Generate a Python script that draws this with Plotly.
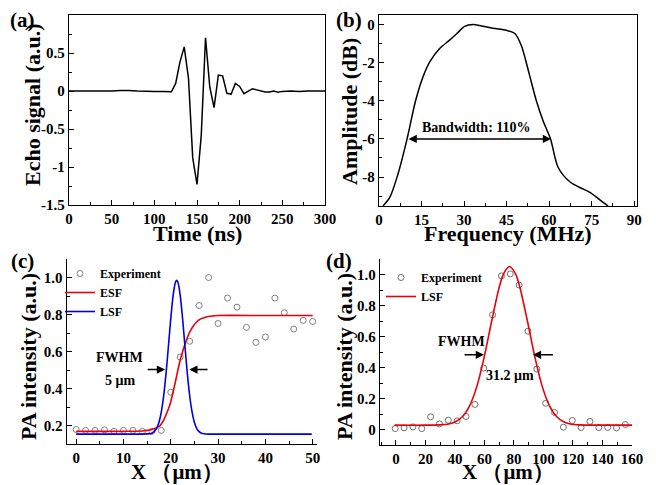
import plotly.graph_objects as go

# ---------------- data ----------------
# (a) echo signal
time_ns = [0, 10, 20, 30, 40, 50, 60, 65, 70, 80, 90, 100, 110, 115, 120, 125, 130, 135,
           140, 145, 150, 155, 160, 165, 170, 175, 180, 185, 190, 195, 200, 205, 210, 215,
           220, 225, 230, 235, 240, 245, 250, 260, 270, 280, 290, 300]
echo_signal = [0.0, 0.0, -0.003, -0.005, -0.005, 0.0, 0.008, 0.01, 0.008, 0.0, -0.005, -0.008,
               -0.005, -0.008, -0.01, 0.1, 0.38, 0.58, 0.17, -0.88, -1.23, -0.58, 0.70, 0.05,
               -0.22, 0.21, 0.20, -0.03, -0.04, 0.10, 0.06, -0.035, 0.0, 0.03, 0.015, 0.0,
               -0.013, -0.013, 0.0, -0.017, -0.005, 0.0, -0.005, 0.0, 0.0, 0.0]

# (b) spectrum
freq_mhz = [1.4, 3.8, 6.7, 9.9, 12.9, 15.5, 17.9, 21.4, 24.9, 27.3, 30.2, 33.2, 35.5, 40.2,
            44.9, 47.9, 50.2, 53.0, 55.5, 58.0, 60.5, 63.2, 67.3, 70.8, 74.4, 77.9, 80.8]
amplitude_db = [-9.52, -9.07, -7.84, -6.0, -4.0, -2.75, -1.96, -1.26, -0.82, -0.5, -0.1, 0.0,
                -0.05, -0.2, -0.3, -0.47, -1.1, -2.6, -4.0, -5.1, -6.0, -7.5, -8.25, -8.55,
                -8.8, -9.2, -9.52]

# (c) edge spread
c_exp_x = [0, 2, 4, 6, 8, 10, 12, 14, 16, 18, 20, 22, 24, 26, 28, 30, 32, 34, 36, 38, 40, 42,
           44, 46, 48, 50]
c_exp_y = [0.18, 0.175, 0.175, 0.178, 0.17, 0.175, 0.175, 0.17, 0.17, 0.175, 0.381, 0.571,
           0.656, 0.849, 1.0, 0.752, 0.889, 0.84, 0.731, 0.65, 0.679, 0.889, 0.81, 0.722,
           0.769, 0.763]
esf_x = [0, 10, 14, 15, 16, 17, 17.7, 18, 18.5, 19, 19.5, 20, 20.6, 21, 21.5, 22, 22.5, 23,
         23.5, 24, 24.8, 25.5, 26, 27, 28, 29, 30, 40, 50]
esf_y = [0.17, 0.17, 0.172, 0.175, 0.18, 0.19, 0.2, 0.21, 0.23, 0.26, 0.29, 0.33, 0.395,
         0.44, 0.5, 0.555, 0.6, 0.64, 0.675, 0.705, 0.74, 0.76, 0.772, 0.783, 0.79, 0.793,
         0.795, 0.795, 0.795]
lsf_c_x = [0, 10, 14, 15, 16, 17, 17.5, 18, 18.5, 19, 19.5, 20, 20.5, 21, 21.25, 21.5, 22,
           22.5, 23, 23.5, 24, 24.5, 25, 25.5, 26, 26.5, 27, 28, 30, 40, 49.8]
lsf_c_y = [0.155, 0.155, 0.155, 0.156, 0.16, 0.185, 0.218, 0.275, 0.362, 0.483, 0.628, 0.778,
           0.904, 0.976, 0.985, 0.976, 0.904, 0.778, 0.628, 0.483, 0.362, 0.275, 0.218, 0.185,
           0.168, 0.16, 0.157, 0.155, 0.155, 0.155, 0.155]

# (d) line spread
d_exp_x = [-0.5, 5.5, 11.5, 17.5, 23.5, 29.5, 35.5, 41.5, 47.5, 53.5, 59.5, 65.5, 71.5, 77.5,
           83.5, 89.5, 95.5, 101.5, 107.5, 113.5, 119.5, 125.5, 131.5, 137.5, 143.5, 149.5,
           155.5]
d_exp_y = [0.006, 0.01, 0.017, 0.006, 0.082, 0.036, 0.06, 0.056, 0.084, 0.162, 0.396, 0.74,
           0.991, 1.004, 0.932, 0.634, 0.39, 0.169, 0.11, 0.015, 0.058, 0.013, 0.052, 0.013,
           0.013, 0.01, 0.032]
lsf_d_x = [-1, 20, 30, 35, 40, 45, 50, 55, 60, 65, 70, 73, 77, 81, 84, 89, 94, 99, 104, 109,
           114, 119, 124, 135, 160]
lsf_d_y = [0.028, 0.028, 0.03, 0.034, 0.048, 0.082, 0.154, 0.283, 0.475, 0.705, 0.918, 1.006,
           1.052, 1.006, 0.918, 0.705, 0.475, 0.283, 0.154, 0.082, 0.048, 0.034, 0.03, 0.028,
           0.028]

# tick labels
a_xticks = [0, 50, 100, 150, 200, 250, 300]
a_yticks = [1, 0.5, 0, -0.5, -1, -1.5]
a_ytext = ["1", "0.5", "0", "-0.5", "-1", "-1.5"]
b_xticks = [0, 15, 30, 45, 60, 75, 90]
b_yticks = [0, -2, -4, -6, -8]
b_ytext = ["0", "-2", "-4", "-6", "-8"]
c_xticks = [0, 10, 20, 30, 40, 50]
c_yticks = [0.2, 0.4, 0.6, 0.8, 1.0]
c_ytext = ["0.2", "0.4", "0.6", "0.8", "1.0"]
d_xticks = [0, 20, 40, 60, 80, 100, 120, 140, 160]
d_yticks = [0, 0.2, 0.4, 0.6, 0.8, 1.0]
d_ytext = ["0", "0.2", "0.4", "0.6", "0.8", "1.0"]

# ---------------- figure ----------------
W, H = 656, 485
OFF = 8  # the page body adds an 8 px offset; positions below are screen pixels
FONT = "Liberation Serif, Times New Roman, serif"


def px(x):
    return (x - OFF) / W


def py(y):
    return 1 - (y - OFF) / H


fig = go.Figure()

fig.add_trace(go.Scatter(x=time_ns, y=echo_signal, mode="lines",
                         line=dict(color="black", width=1.5),
                         xaxis="x", yaxis="y", showlegend=False))
fig.add_trace(go.Scatter(x=freq_mhz, y=amplitude_db, mode="lines",
                         line=dict(color="black", width=1.5, shape="spline", smoothing=0.8),
                         xaxis="x2", yaxis="y2", showlegend=False))

fig.add_trace(go.Scatter(x=c_exp_x, y=c_exp_y, mode="markers", name="Experiment",
                         marker=dict(symbol="circle-open", size=6, color="#808080",
                                     line=dict(width=1)),
                         xaxis="x3", yaxis="y3", legend="legend"))
fig.add_trace(go.Scatter(x=esf_x, y=esf_y, mode="lines", name="ESF",
                         line=dict(color="#e8000b", width=1.6, shape="spline", smoothing=0.8),
                         xaxis="x3", yaxis="y3", legend="legend"))
fig.add_trace(go.Scatter(x=lsf_c_x, y=lsf_c_y, mode="lines", name="LSF",
                         line=dict(color="#0000e0", width=1.6, shape="spline", smoothing=0.8),
                         xaxis="x3", yaxis="y3", legend="legend"))

fig.add_trace(go.Scatter(x=d_exp_x, y=d_exp_y, mode="markers", name="Experiment",
                         marker=dict(symbol="circle-open", size=6, color="#707070",
                                     line=dict(width=1)),
                         xaxis="x4", yaxis="y4", legend="legend2"))
fig.add_trace(go.Scatter(x=lsf_d_x, y=lsf_d_y, mode="lines", name="LSF",
                         line=dict(color="#e8000b", width=1.6, shape="spline", smoothing=0.8),
                         xaxis="x4", yaxis="y4", legend="legend2"))

tickfont = dict(family=FONT, size=15, color="black", weight="bold")


def axis(domain, rng, tickvals, ticktext=None, mirror=False, minor_dtick=None, anchor=None):
    d = dict(domain=domain, range=rng, tickmode="array", tickvals=tickvals,
             ticks="inside", ticklen=5, tickwidth=1, tickcolor="black",
             showline=True, linecolor="black", linewidth=1.3, mirror=mirror,
             showgrid=False, zeroline=False, tickfont=tickfont, anchor=anchor,
             ticklabelstandoff=0, automargin=False)
    if ticktext is not None:
        d["ticktext"] = ticktext
    if minor_dtick is not None:
        d["minor"] = dict(ticks="inside", ticklen=3, dtick=minor_dtick, tick0=0,
                          tickcolor="black", tickwidth=1, showgrid=False)
    return d


fig.update_layout(
    width=W, height=H, margin=dict(l=0, r=0, t=0, b=0, pad=0, autoexpand=False),
    paper_bgcolor="white", plot_bgcolor="white",
    xaxis=axis([px(69), px(325)], [0, 300], a_xticks, mirror=True, minor_dtick=25, anchor="y"),
    yaxis=axis([py(205), py(15)], [-1.5, 1], a_yticks, a_ytext, mirror=True, minor_dtick=0.25, anchor="x"),
    xaxis2=axis([px(379), px(637)], [0, 91], b_xticks, mirror=True, minor_dtick=7.5, anchor="y2"),
    yaxis2=axis([py(206), py(15)], [-9.52, 0.5], b_yticks, b_ytext, mirror=True, minor_dtick=1, anchor="x2"),
    xaxis3=axis([px(66.7), px(316.7)], [-2, 50.85], c_xticks, minor_dtick=5, anchor="y3"),
    yaxis3=axis([py(444.3), py(259)], [0.1, 1.1], c_yticks, c_ytext, minor_dtick=0.1, anchor="x3"),
    xaxis4=axis([px(380), px(632)], [-10.8, 160], d_xticks, minor_dtick=10, anchor="y4"),
    yaxis4=axis([py(445), py(259)], [-0.1, 1.1], d_yticks, d_ytext, minor_dtick=0.1, anchor="x4"),
    legend=dict(x=px(60), y=py(259), xanchor="left", yanchor="top",
                bgcolor="rgba(0,0,0,0)", itemwidth=30, tracegroupgap=0,
                font=dict(family=FONT, size=12, color="black", weight="bold")),
    legend2=dict(x=px(381), y=py(263), xanchor="left", yanchor="top",
                 bgcolor="rgba(0,0,0,0)", itemwidth=30, tracegroupgap=0,
                 font=dict(family=FONT, size=12, color="black", weight="bold")),
)

annots = []


def text(x, y, s, size, xref="paper", yref="paper", angle=0):
    annots.append(dict(x=x, y=y, xref=xref, yref=yref, text=s, showarrow=False,
                       textangle=angle, xanchor="center", yanchor="middle",
                       font=dict(family=FONT, size=size, color="black", weight="bold")))


def arrow(x, y, ax, ay, xr, yr, both=False):
    annots.append(dict(x=x, y=y, ax=ax, ay=ay, xref=xr, yref=yr, axref=xr, ayref=yr,
                       text="", showarrow=True, arrowhead=2, arrowsize=1.1, arrowwidth=1.5,
                       arrowcolor="black", arrowside="end+start" if both else "end",
                       startarrowhead=2, startarrowsize=1.1))


# panel labels
text(px(22), py(20), "(a)", 21)
text(px(349), py(20), "(b)", 21)
text(px(22), py(261), "(c)", 21)
text(px(339), py(261), "(d)", 21)

# axis titles
text(px(197), py(233), "Time (ns)", 22)
text(px(508), py(233), "Frequency (MHz)", 22)
text(px(33), py(105), "Echo signal (a.u.)", 22, angle=-90)
text(px(349), py(112), "Amplitude (dB)", 22, angle=-90)
text(px(28), py(357), "PA intensity (a.u.)", 22, angle=-90)
text(px(344), py(357), "PA intensity (a.u.)", 22, angle=-90)
text(px(177), py(472), "X （μm）", 21)
text(px(508), py(472), "X （μm）", 21)

# in-plot text
text(34.4, -5.4, "Bandwidth: 110%", 14, "x2", "y2")
text(9.2, 0.571, "FWHM", 14, "x3", "y3")
text(9.2, 0.444, "5 μm", 14, "x3", "y3")
text(44.4, 0.569, "FWHM", 14, "x4", "y4")
text(77, 0.346, "31.2 μm", 14, "x4", "y4")

# arrows
arrow(60.7, -6, 9.9, -6, "x2", "y2", both=True)
arrow(18.8, 0.503, 14.8, 0.503, "x3", "y3")
arrow(23.9, 0.503, 28.1, 0.503, "x3", "y3")
arrow(59.7, 0.482, 45.5, 0.482, "x4", "y4")
arrow(92.8, 0.482, 107.4, 0.482, "x4", "y4")

fig.update_layout(annotations=annots)

fig.write_html("out.html")
